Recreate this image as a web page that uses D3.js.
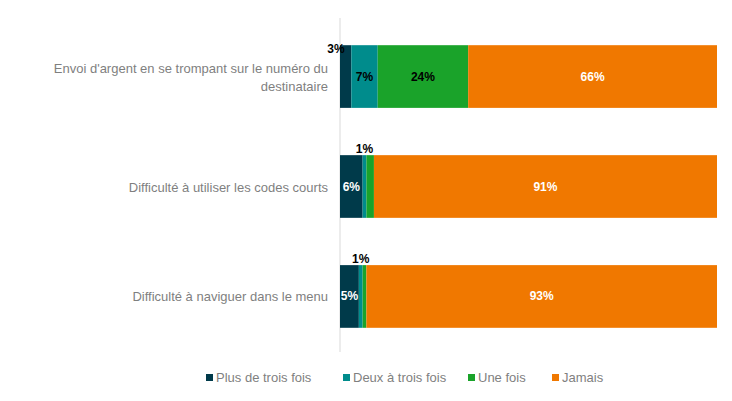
<!DOCTYPE html>
<html><head><meta charset="utf-8">
<script src="https://cdn.jsdelivr.net/npm/d3@7"></script>
<style>body{margin:0;background:#fff}svg{font-family:"Liberation Sans",Arial,sans-serif}</style>
</head><body><svg id="c" width="732" height="401"></svg>
<script>
const categories = [
  ["Envoi d'argent en se trompant sur le numéro du", "destinataire"],
  ["Difficulté à utiliser les codes courts"],
  ["Difficulté à naviguer dans le menu"]
];
const seriesNames = ["Plus de trois fois", "Deux à trois fois", "Une fois", "Jamais"];
const values = [
  [3, 7, 24, 66],
  [6, 1, 2, 91],
  [5, 1, 1, 93]
];
const colors = ["#003a4a", "#008c8c", "#1aa32a", "#f07800"];
const labelColors = ["#fff", "#000", "#000", "#fff"];

const svg = d3.select("#c");
const x = d3.scaleLinear().domain([0, 100]).range([340, 717]);
const y = d3.scaleBand().domain(d3.range(categories.length)).range([21, 352]).paddingInner(0.43).paddingOuter(0.22);

svg.append("line").attr("x1", 340).attr("x2", 340).attr("y1", 18).attr("y2", 352).attr("stroke", "#d9d9d9");

values.forEach((row, i) => {
  let acc = 0;
  const g = svg.append("g");
  row.forEach((v, j) => {
    const x0 = acc; acc += v;
    g.append("rect").attr("x", x(x0)).attr("width", x(acc) - x(x0))
      .attr("y", y(i)).attr("height", y.bandwidth()).attr("fill", colors[j]);
    const small = v < 4;
    let lx = x(x0 + v / 2), ly = y(i) + y.bandwidth() / 2 + 4, fill = labelColors[j];
    if (j === 0 && small) { lx = x(x0) - 4; ly = y(i) + 8; fill = "#000"; }
    else if (j === 1 && small) { ly = y(i) - 2; fill = "#000"; }
    else if (j === 2 && small) { lx = x(x0 + v) + 10; fill = "#000"; }
    g.append("text").attr("x", lx).attr("y", ly).attr("text-anchor", "middle")
      .attr("font-size", 12).attr("font-weight", "bold").attr("fill", fill).text(v + "%");
  });
  const lines = categories[i];
  const cy = y(i) + y.bandwidth() / 2;
  lines.forEach((t, k) => {
    svg.append("text").attr("x", 328).attr("y", cy + 5 + (k - (lines.length - 1) / 2) * 18)
      .attr("text-anchor", "end").attr("font-size", 13).attr("fill", "#7f7f7f").text(t);
  });
});

const legX = [206, 343, 468, 552];
seriesNames.forEach((n, j) => {
  svg.append("rect").attr("x", legX[j]).attr("y", 374).attr("width", 7).attr("height", 7).attr("fill", colors[j]);
  svg.append("text").attr("x", legX[j] + 10).attr("y", 382).attr("font-size", 13).attr("fill", "#7f7f7f").text(n);
});
</script></body></html>
